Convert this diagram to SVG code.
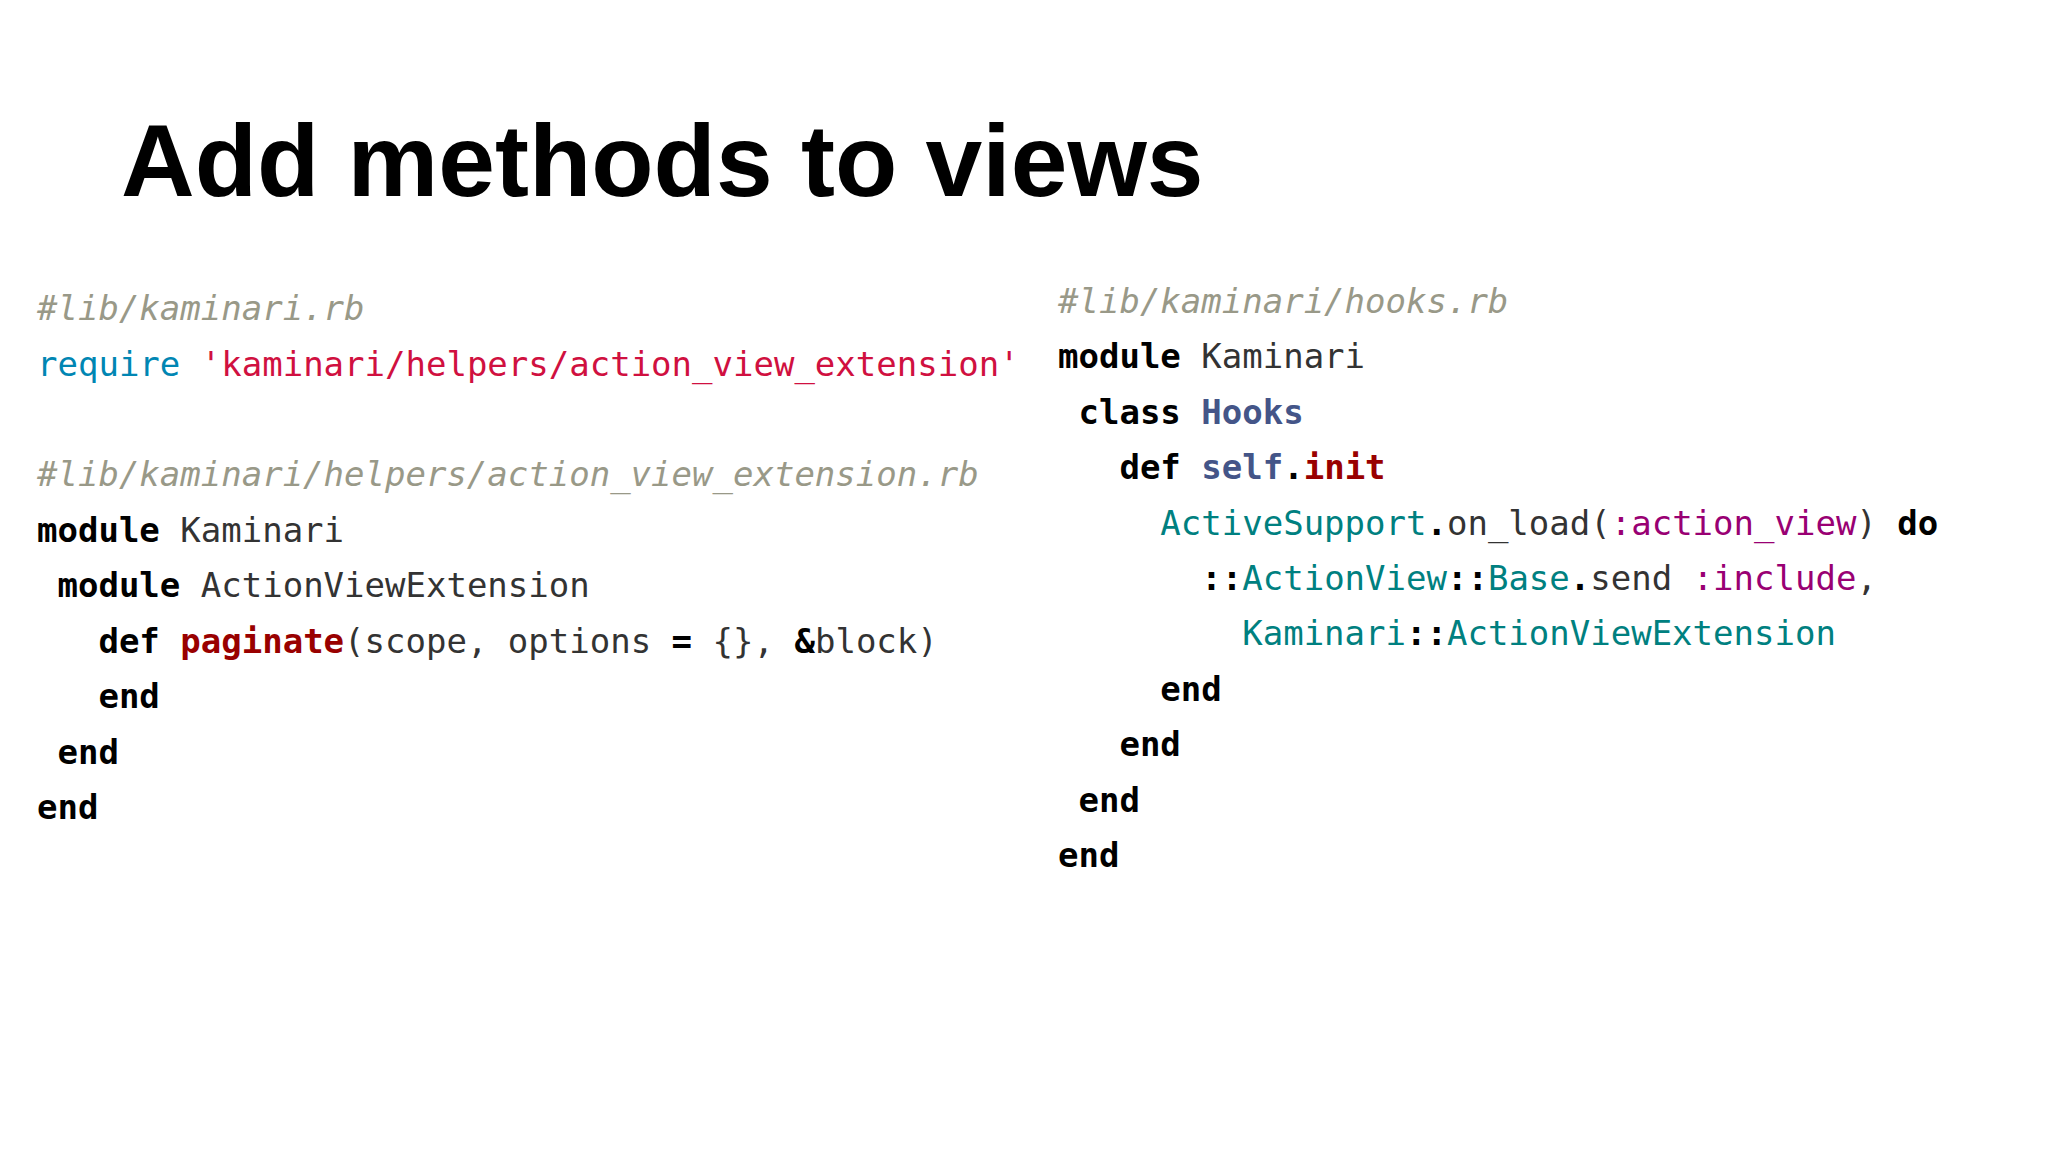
<svg xmlns="http://www.w3.org/2000/svg" width="2048" height="1152" viewBox="0 0 2048 1152">
<style>
.c{font-family:"DejaVu Sans Mono","Liberation Mono",monospace;font-size:34px;fill:#333;white-space:pre}
.cm{fill:#999988;font-style:italic}
.k{fill:#000;font-weight:bold}
.s{fill:#d01040}
.b{fill:#0086b3}
.t{fill:#008080}
.y{fill:#990073}
.f{fill:#990000;font-weight:bold}
.n{fill:#445588;font-weight:bold}
</style>
<rect width="2048" height="1152" fill="#fff"/>
<text id="title" x="121" y="196" font-family="Liberation Sans, Arial, sans-serif" font-weight="bold" font-size="102" fill="#000">Add methods to views</text>
<g id="left" class="c" xml:space="preserve">
<text x="37" y="320" class="c cm">#lib/kaminari.rb</text>
<text x="37" y="376" class="c"><tspan class="b">require</tspan> <tspan class="s">'kaminari/helpers/action_view_extension'</tspan></text>
<text x="37" y="486" class="c cm">#lib/kaminari/helpers/action_view_extension.rb</text>
<text x="37" y="542" class="c"><tspan class="k">module</tspan> Kaminari</text>
<text x="37" y="597" class="c"> <tspan class="k">module</tspan> ActionViewExtension</text>
<text x="37" y="653" class="c">   <tspan class="k">def</tspan> <tspan class="f">paginate</tspan>(scope, options <tspan class="k">=</tspan> {}, <tspan class="k">&amp;</tspan>block)</text>
<text x="37" y="708" class="c">   <tspan class="k">end</tspan></text>
<text x="37" y="764" class="c"> <tspan class="k">end</tspan></text>
<text x="37" y="819" class="c"><tspan class="k">end</tspan></text>
</g>
<g id="right" class="c" xml:space="preserve">
<text x="1058" y="313" class="c cm">#lib/kaminari/hooks.rb</text>
<text x="1058" y="368" class="c"><tspan class="k">module</tspan> Kaminari</text>
<text x="1058" y="424" class="c"> <tspan class="k">class</tspan> <tspan class="n">Hooks</tspan></text>
<text x="1058" y="479" class="c">   <tspan class="k">def</tspan> <tspan class="n">self</tspan><tspan class="k">.</tspan><tspan class="f">init</tspan></text>
<text x="1058" y="535" class="c">     <tspan class="t">ActiveSupport</tspan><tspan class="k">.</tspan>on_load(<tspan class="y">:action_view</tspan>) <tspan class="k">do</tspan></text>
<text x="1058" y="590" class="c">       <tspan class="k">::</tspan><tspan class="t">ActionView</tspan><tspan class="k">::</tspan><tspan class="t">Base</tspan><tspan class="k">.</tspan>send <tspan class="y">:include</tspan>,</text>
<text x="1058" y="645" class="c">         <tspan class="t">Kaminari</tspan><tspan class="k">::</tspan><tspan class="t">ActionViewExtension</tspan></text>
<text x="1058" y="701" class="c">     <tspan class="k">end</tspan></text>
<text x="1058" y="756" class="c">   <tspan class="k">end</tspan></text>
<text x="1058" y="812" class="c"> <tspan class="k">end</tspan></text>
<text x="1058" y="867" class="c"><tspan class="k">end</tspan></text>
</g>
</svg>
